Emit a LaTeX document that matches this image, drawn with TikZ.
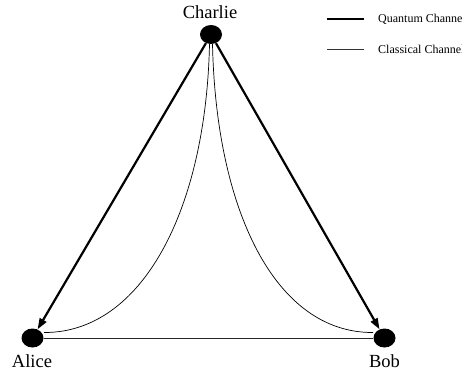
\documentclass[tikz,border=0pt]{standalone}
\usepackage{fontspec}
\setmainfont{Liberation Serif}
\usetikzlibrary{arrows.meta,shapes.geometric}
\begin{document}
\begin{tikzpicture}[x=1pt,y=-1pt,
  party/.style={ellipse,fill=black,minimum width=22pt,minimum height=19pt,inner sep=0pt},
  lbl/.style={font=\fontsize{18.5}{20}\selectfont,inner sep=0pt,anchor=base},
  quantum/.style={line width=2.2pt,-{Triangle[length=11pt,width=7.5pt]}},
  classical/.style={line width=0.7pt},
  legtext/.style={font=\fontsize{12}{14}\selectfont,anchor=west,inner sep=0pt}]
\useasboundingbox (0,0) rectangle (462,375);
\node[party] (charlie) at (211,34.5) {};
\node[party] (alice) at (32.5,338) {};
\node[party] (bob) at (384.5,338) {};
\node[lbl] (lc) at (210,18.5) {Charlie};
\node[lbl] (la) at (32,367) {Alice};
\node[lbl] (lb) at (384.5,367) {Bob};
% quantum channels
\draw[quantum] (charlie) -- (alice);
\draw[quantum] (charlie) -- (bob);
% classical channels
\coordinate (cL) at (209.5,44);
\coordinate (cR) at (212.5,44);
\coordinate (aE) at (44,332.5);
\coordinate (bE) at (373,332.5);
\draw[classical] (cL) .. controls (206,210) and (142,333) .. (aE);
\draw[classical] (cR) .. controls (216,210) and (275,333) .. (bE);
\draw[classical, black!85] (alice) -- (bob);
% legend
\coordinate (q1) at (327,19);
\coordinate (q2) at (364,19);
\coordinate (k1) at (327,49);
\coordinate (k2) at (364,49);
\draw[line width=2.2pt] (q1) -- (q2);
\draw[classical, black!80] (k1) -- (k2);
\node[legtext] (tq) at (378,19) {Quantum Channel};
\node[legtext] (tk) at (378,49) {Classical Channel};
\end{tikzpicture}
\end{document}
